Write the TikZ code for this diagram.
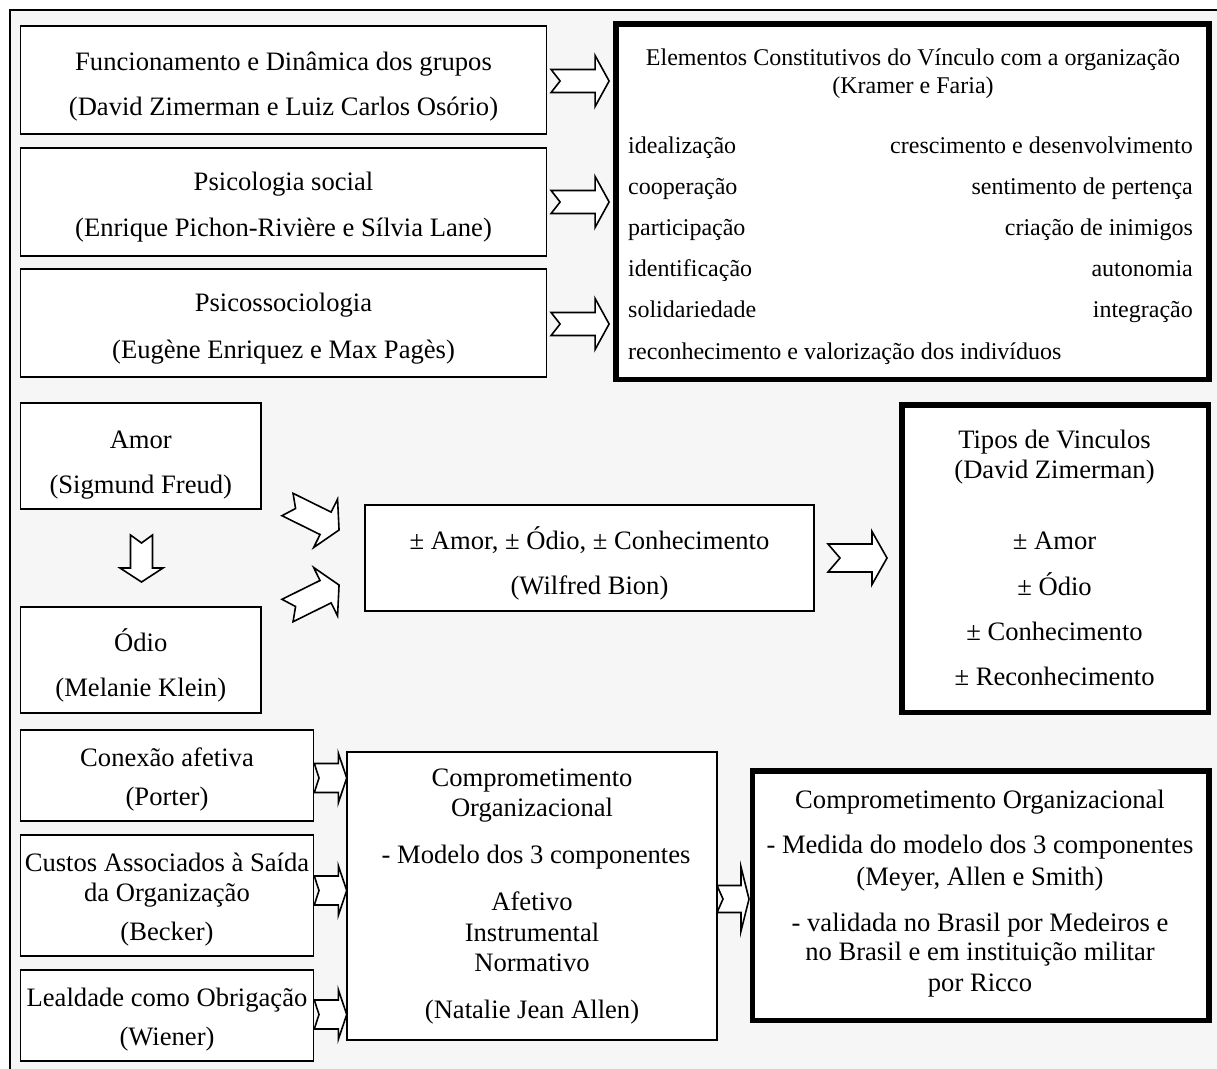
\documentclass[tikz,border=0pt]{standalone}
\usepackage{fontspec}
\setmainfont{Liberation Serif}
\usetikzlibrary{calc}
\definecolor{bg}{HTML}{F6F6F6}
\newcommand\blkarrow[7]{% #1 tail position, #2 angle, #3 length, #4 shaft half, #5 head half, #6 head length, #7 notch
  \draw[barrow, shift={#1}, rotate=#2] (0,#4) -- ({#3-#6},#4) -- ({#3-#6},#5) -- (#3,0) -- ({#3-#6},-#5) -- ({#3-#6},-#4) -- (0,-#4) -- (#7,0) -- cycle;}
\begin{document}
\begin{tikzpicture}[x=1pt,y=-1pt,
  box/.style={draw=black, line width=1.7pt, fill=white, inner sep=0pt, outer sep=0pt, anchor=north west},
  heavybox/.style={draw=black, line width=5.5pt, fill=white, inner sep=0pt, outer sep=0pt, anchor=north west},
  txt/.style={inner sep=0pt, anchor=base, font=\fontsize{26.6}{30}\selectfont},
  stxt/.style={inner sep=0pt, font=\fontsize{24}{28}\selectfont},
  barrow/.style={draw=black, line width=1.6pt, fill=white, line join=miter}
]
\useasboundingbox (0,0) rectangle (1217,1068);
\clip (0,0) rectangle (1217,1068);
\fill[white] (0,0) rectangle (1217,1068);
\draw[line width=2pt, fill=bg] (9.5,9.5) rectangle (1240,1090);

% ---------- top block ----------
\node[box, minimum width=526pt, minimum height=108pt] (b1) at (20.6,26) {};
\node[box, minimum width=526pt, minimum height=108pt] (b2) at (20.6,148) {};
\node[box, minimum width=526pt, minimum height=108pt] (b3) at (20.6,269) {};
\node[txt] (b1a) at (283.5,70) {Funcionamento e Dinâmica dos grupos};
\node[txt] (b1b) at (283.5,115) {(David Zimerman e Luiz Carlos Osório)};
\node[txt] (b2a) at (283.5,190.7) {Psicologia social};
\node[txt] (b2b) at (283.5,236.7) {(Enrique Pichon-Rivière e Sílvia Lane)};
\node[txt] (b3a) at (283.5,311.7) {Psicossociologia};
\node[txt] (b3b) at (283.5,358.3) {(Eugène Enriquez e Max Pagès)};

\node[heavybox, minimum width=593pt, minimum height=355.5pt] (el) at (615.75,23.75) {};
\node[stxt, anchor=base] (elt1) at (913,65) {Elementos Constitutivos do Vínculo com a organização};
\node[stxt, anchor=base] (elt2) at (913,93.3) {(Kramer e Faria)};
\node[stxt, anchor=base west] (l1) at (628,153) {idealização};
\node[stxt, anchor=base west] (l2) at (628,194.2) {cooperação};
\node[stxt, anchor=base west] (l3) at (628,235.4) {participação};
\node[stxt, anchor=base west] (l4) at (628,276.6) {identificação};
\node[stxt, anchor=base west] (l5) at (628,317.8) {solidariedade};
\node[stxt, anchor=base west] (l6) at (628,359) {reconhecimento e valorização dos indivíduos};
\node[stxt, anchor=base east] (r1) at (1193,153) {crescimento e desenvolvimento};
\node[stxt, anchor=base east] (r2) at (1193,194.2) {sentimento de pertença};
\node[stxt, anchor=base east] (r3) at (1193,235.4) {criação de inimigos};
\node[stxt, anchor=base east] (r4) at (1193,276.6) {autonomia};
\node[stxt, anchor=base east] (r5) at (1193,317.8) {integração};

\blkarrow{($(b1.east)+(4.5,1)$)}{0}{58}{11.5}{25.5}{14}{9}
\blkarrow{($(b2.east)+(4.5,0)$)}{0}{58}{11.5}{25.5}{14}{9}
\blkarrow{($(b3.east)+(4.5,1)$)}{0}{58}{11.5}{25.5}{14}{9}

% ---------- middle block ----------
\node[box, minimum width=240.4pt, minimum height=106pt] (amor) at (20.6,403) {};
\node[box, minimum width=240.4pt, minimum height=106pt] (odio) at (20.6,607) {};
\node[txt] (amora) at (140.8,448.3) {Amor};
\node[txt] (amorb) at (140.8,493.3) {(Sigmund Freud)};
\node[txt] (odioa) at (140.8,651.7) {Ódio};
\node[txt] (odiob) at (140.8,696.7) {(Melanie Klein)};

\node[box, minimum width=449pt, minimum height=106pt] (bion) at (365,505) {};
\node[txt] (biona) at (589.5,549.5) {± Amor, ± Ódio, ± Conhecimento};
\node[txt] (bionb) at (589.5,594) {(Wilfred Bion)};

\node[heavybox, minimum width=306.5pt, minimum height=307.5pt] (tipos) at (901.75,404.75) {};
\node[txt] (t1) at (1054.5,448) {Tipos de Vinculos};
\node[txt] (t2) at (1054.5,478) {(David Zimerman)};
\node[txt] (t3) at (1054.5,549) {± Amor};
\node[txt] (t4) at (1054.5,595) {± Ódio};
\node[txt] (t5) at (1054.5,640) {± Conhecimento};
\node[txt] (t6) at (1054.5,685) {± Reconhecimento};

\blkarrow{($(amor.south)+(0.7,26)$)}{-90}{47}{11}{21.5}{14}{8}
\blkarrow{($(bion.west)+(-77.5,-53.5)$)}{-26.3}{57.5}{12.5}{27}{15}{9}
\blkarrow{($(bion.west)+(-77.5,52.5)$)}{26.3}{57.5}{12.5}{27}{15}{9}
\blkarrow{($(bion.east)+(14,0)$)}{0}{59}{14}{26.5}{15}{12}

% ---------- bottom block ----------
\node[box, minimum width=293pt, minimum height=91pt] (con) at (20.6,730) {};
\node[box, minimum width=293pt, minimum height=121pt] (cus) at (20.6,835) {};
\node[box, minimum width=293pt, minimum height=91pt] (lea) at (20.6,970) {};
\node[txt] (cona) at (167,766.7) {Conexão afetiva};
\node[txt] (conb) at (167,805) {(Porter)};
\node[txt] (cusa) at (167,871.7) {Custos Associados à Saída};
\node[txt] (cusb) at (167,901.7) {da Organização};
\node[txt] (cusc) at (167,940) {(Becker)};
\node[txt] (leaa) at (167,1006.7) {Lealdade como Obrigação};
\node[txt] (leab) at (167,1045) {(Wiener)};

\node[box, minimum width=370pt, minimum height=288pt] (com) at (347,752) {};
\node[txt] (coma) at (532,786.7) {Comprometimento};
\node[txt] (comb) at (532,816.7) {Organizacional};
\node[txt] (comc) at (536,863.3) {- Modelo dos 3 componentes};
\node[txt] (comd) at (532,910.7) {Afetivo};
\node[txt] (come) at (532,941.7) {Instrumental};
\node[txt] (comf) at (532,971.7) {Normativo};
\node[txt] (comg) at (532,1018.3) {(Natalie Jean Allen)};

\node[heavybox, minimum width=456.5pt, minimum height=249.5pt] (fin) at (752.25,770.75) {};
\node[txt] (fina) at (980,808.3) {Comprometimento Organizacional};
\node[txt] (finb) at (980,853.3) {- Medida do modelo dos 3 componentes};
\node[txt] (finc) at (980,885) {(Meyer, Allen e Smith)};
\node[txt] (find) at (980,931.7) {- validada no Brasil por Medeiros e};
\node[txt] (fine) at (980,960.7) {no Brasil e em instituição militar};
\node[txt] (finf) at (980,991.7) {por Ricco};

\blkarrow{($(con.east)+(0.7,2.5)$)}{0}{32.4}{14.5}{25}{8.4}{4.7}
\blkarrow{($(cus.east)+(0.7,-5)$)}{0}{32.4}{14.5}{25}{8.4}{4.7}
\blkarrow{($(lea.east)+(0.7,-1)$)}{0}{32.4}{14.5}{25}{8.4}{4.7}
\blkarrow{($(com.east)+(0,3)$)}{0}{32}{13.5}{32}{8}{6}
\end{tikzpicture}
\end{document}
